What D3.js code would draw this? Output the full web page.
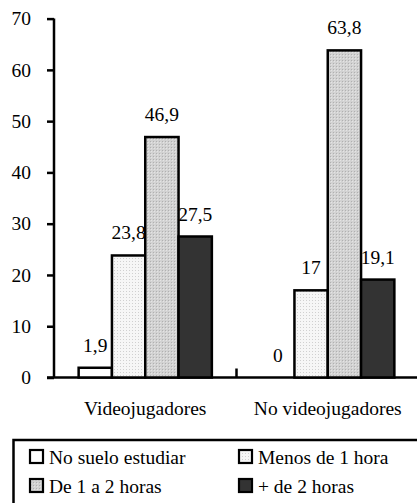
<!DOCTYPE html>
<html>
<head>
<meta charset="utf-8">
<script src="https://cdn.jsdelivr.net/npm/d3@7"></script>
<style>
	body { margin: 0; background: #fff; }
	#chart text { font-family: "Liberation Serif", "Times New Roman", Times, serif !important; }
</style>
</head>
<body>
<svg id="chart" width="417" height="503"></svg>
<script>
// data
var groups = ["Videojugadores", "No videojugadores"];
var series = ["No suelo estudiar", "Menos de 1 hora", "De 1 a 2 horas", "+ de 2 horas"];
var videojugadores = [1.9, 23.8, 46.9, 27.5];
var noVideojugadores = [0, 17, 63.8, 19.1];
var yTicks = [0, 10, 20, 30, 40, 50, 60, 70];

var values = [videojugadores, noVideojugadores];
var fills = ["#fff", "url(#patLight)", "url(#patMid)", "#333"];

var FS = 19.5, FONT = "Liberation Serif";
var svg = d3.select("#chart");

// fill patterns
var defs = svg.append("defs");
var pl = defs.append("pattern").attr("id", "patLight")
	.attr("patternUnits", "userSpaceOnUse").attr("width", 3).attr("height", 3);
pl.append("rect").attr("width", 3).attr("height", 3).attr("fill", "#f6f6f6");
pl.append("rect").attr("width", 1).attr("height", 1).attr("fill", "#d0d0d0");
var pm = defs.append("pattern").attr("id", "patMid")
	.attr("patternUnits", "userSpaceOnUse").attr("width", 3).attr("height", 3);
pm.append("rect").attr("width", 3).attr("height", 3).attr("fill", "#d2d2d2");
pm.append("rect").attr("width", 1).attr("height", 1).attr("fill", "#b0b0b0");
pm.append("rect").attr("x", 1).attr("y", 1).attr("width", 1).attr("height", 1).attr("fill", "#e4e4e4");

var x = d3.scaleBand().domain(groups).range([54, 419])
	.paddingInner(0.27).paddingOuter(0.135);
var xs = d3.scaleBand().domain(d3.range(series.length)).range([0, x.bandwidth()]);
var y = d3.scaleLinear().domain([0, 70]).range([377.5, 18.6]);

function serif(sel){
	return sel.attr("font-family", FONT).attr("font-size", FS).attr("fill", "#000");
}

// y axis
var ya = svg.append("g").attr("transform", "translate(54,0)")
	.call(d3.axisLeft(y).tickValues(yTicks).tickSize(7).tickPadding(16));
ya.attr("font-family", null).attr("font-size", null);
ya.select(".domain").attr("stroke-width", 2.5).attr("d", "M0," + y(70) + "V" + y(0));
ya.selectAll(".tick line").attr("stroke-width", 2.5);
ya.selectAll(".tick text").call(serif);

// x axis line and separator ticks
svg.append("line").attr("x1", 47).attr("x2", 419).attr("y1", y(0)).attr("y2", y(0))
	.attr("stroke", "#000").attr("stroke-width", 2.5);
svg.selectAll(".sep").data(groups.slice(1)).enter().append("line")
	.attr("class", "sep")
	.attr("x1", function(d){ return x(d) - x.step() * x.paddingInner() / 2; })
	.attr("x2", function(d){ return x(d) - x.step() * x.paddingInner() / 2; })
	.attr("y1", y(0)).attr("y2", y(0) - 9)
	.attr("stroke", "#000").attr("stroke-width", 2.5);

svg.selectAll(".cat").data(groups).enter().append("text")
	.attr("class", "cat").call(serif)
	.attr("text-anchor", "middle")
	.attr("x", function(d){ return x(d) + x.bandwidth() / 2; })
	.attr("y", 415)
	.text(function(d){ return d; });

// bars
var pts = [];
groups.forEach(function(g, i){
	series.forEach(function(s, j){ pts.push({g: g, j: j, v: values[i][j]}); });
});

svg.selectAll(".bar").data(pts).enter().append("rect")
	.attr("class", "bar")
	.attr("x", function(d){ return x(d.g) + xs(d.j); })
	.attr("width", xs.bandwidth())
	.attr("y", function(d){ return y(d.v); })
	.attr("height", function(d){ return y(0) - y(d.v); })
	.attr("fill", function(d){ return fills[d.j]; })
	.attr("stroke", "#000")
	.attr("stroke-width", function(d){ return d.v > 0 ? 2.5 : 0; });

svg.selectAll(".val").data(pts).enter().append("text")
	.attr("class", "val").call(serif)
	.attr("text-anchor", "middle")
	.attr("x", function(d){ return x(d.g) + xs(d.j) + xs.bandwidth() / 2; })
	.attr("y", function(d){ return y(d.v) - 16; })
	.text(function(d){ return String(d.v).replace(".", ","); });

// legend
svg.append("rect").attr("x", 13.5).attr("y", 440).attr("width", 420).attr("height", 80)
	.attr("fill", "#fff").attr("stroke", "#000").attr("stroke-width", 2.5);

var lg = svg.selectAll(".leg").data(series).enter().append("g")
	.attr("class", "leg")
	.attr("transform", function(d, i){
		return "translate(" + (i % 2 ? 239 : 30) + "," + (i < 2 ? 450 : 479) + ")";
	});
lg.append("rect").attr("width", 13).attr("height", 13)
	.attr("fill", function(d, i){ return fills[i]; })
	.attr("stroke", "#000").attr("stroke-width", 2.2);
lg.append("text").call(serif)
	.attr("x", 19).attr("y", 13.5)
	.text(function(d){ return d; });
</script>
</body>
</html>
